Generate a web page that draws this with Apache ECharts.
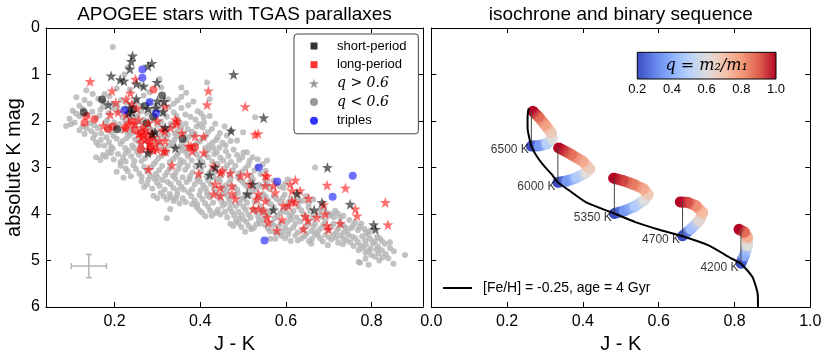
<!DOCTYPE html>
<html><head><meta charset="utf-8">
<script src="https://cdn.jsdelivr.net/npm/echarts@6/dist/echarts.min.js"></script>
<style>html,body{margin:0;padding:0;background:#fff}#c{width:830px;height:360px}</style>
</head><body><div id="c"></div>
<script>
// ---------- DATA: left panel (J-K, absolute K mag) ----------
const greyStars = [
[0.196,0.41],[0.231,0.85],[0.223,1.00],[0.305,1.10],[0.416,1.17],[0.309,1.28],[0.356,1.28],[0.134,1.34],[0.367,1.39],[0.149,1.42],[0.177,1.42],[0.205,1.30],[0.262,1.25],[0.282,1.38],[0.236,1.33],
[0.111,1.49],[0.130,1.55],[0.118,1.67],[0.325,1.53],[0.422,1.53],[0.162,1.52],[0.188,1.47],[0.215,1.55],[0.245,1.62],[0.268,1.45],[0.296,1.66],[0.338,1.63],[0.356,1.48],[0.384,1.58],[0.142,1.63],[0.173,1.69],[0.207,1.67],[0.262,1.68],
[0.175,1.58],[0.195,1.63],[0.228,1.60],[0.252,1.57],[0.281,1.60],[0.310,1.62],[0.347,1.56],[0.372,1.66],[0.186,1.83],[0.209,1.79],[0.231,1.85],[0.262,1.79],[0.287,1.78],[0.315,1.85],[0.344,1.88],[0.389,1.97],[0.137,1.86],[0.165,1.88],[0.110,1.84],[0.223,1.73],[0.327,1.70],[0.246,1.92],[0.297,1.91],[0.402,1.84],
[0.102,1.78],[0.126,1.74],[0.148,1.80],[0.167,1.76],[0.198,1.72],[0.219,1.93],[0.254,1.88],[0.276,1.84],[0.302,1.74],[0.322,1.91],[0.338,1.81],[0.356,1.72],[0.377,1.91],[0.408,1.92],[0.422,1.89],[0.528,1.92],[0.095,1.95],[0.118,1.90],[0.157,1.93],[0.183,1.98],[0.236,1.96],[0.268,1.97],[0.292,1.99],[0.348,1.97],[0.394,1.79],[0.365,1.86],
[0.087,2.11],[0.107,2.03],[0.130,2.28],[0.125,2.12],[0.141,2.05],[0.161,2.15],[0.178,2.03],[0.192,2.24],[0.212,2.07],[0.231,2.27],[0.248,2.10],[0.266,2.05],[0.284,2.17],[0.302,2.08],[0.325,2.29],[0.336,2.12],[0.352,2.05],[0.371,2.18],[0.388,2.28],[0.409,2.03],[0.406,2.14],[0.435,2.06],[0.500,2.24],[0.146,2.22],[0.205,2.15],[0.219,2.21],[0.258,2.26],[0.296,2.27],[0.314,2.14],[0.347,2.22],[0.362,2.27],[0.392,2.12],[0.418,2.24],[0.273,2.21],[0.238,2.18],
[0.098,2.07],[0.118,2.20],[0.135,2.16],[0.152,2.09],[0.169,2.27],[0.187,2.11],[0.199,2.03],[0.226,2.02],[0.243,2.25],[0.255,2.02],[0.262,2.17],[0.279,2.09],[0.291,2.22],[0.309,2.01],[0.321,2.20],[0.341,2.27],[0.356,2.14],[0.366,2.06],[0.381,2.23],[0.398,2.07],[0.427,2.17],[0.446,2.26],[0.457,2.12],[0.472,2.21],[0.155,2.29],[0.183,2.19],[0.288,2.29],[0.331,2.06],
[0.157,2.46],[0.181,2.35],[0.192,2.56],[0.462,2.31],[0.486,2.42],[0.452,2.47],[0.168,2.41],[0.205,2.38],[0.214,2.49],[0.228,2.37],[0.241,2.52],[0.255,2.44],[0.269,2.33],[0.281,2.55],[0.293,2.39],[0.307,2.52],[0.321,2.36],[0.333,2.47],[0.345,2.33],[0.351,2.56],[0.366,2.42],[0.379,2.31],[0.392,2.47],[0.405,2.38],[0.421,2.52],[0.437,2.41],[0.445,2.57],[0.176,2.53],[0.225,2.58],[0.264,2.59],[0.298,2.32],[0.316,2.58],[0.339,2.55],[0.374,2.57],[0.412,2.58],
[0.150,2.37],[0.163,2.52],[0.187,2.45],[0.198,2.33],[0.219,2.43],[0.235,2.31],[0.248,2.39],[0.261,2.51],[0.275,2.44],[0.287,2.34],[0.302,2.46],[0.313,2.32],[0.327,2.53],[0.340,2.41],[0.357,2.48],[0.371,2.36],[0.385,2.53],[0.399,2.44],[0.413,2.33],[0.429,2.46],[0.441,2.35],[0.459,2.52],[0.471,2.43],[0.196,2.59],[0.246,2.58],[0.292,2.58],[0.362,2.57],[0.431,2.58],
[0.157,2.78],[0.220,2.78],[0.509,2.67],[0.454,2.85],[0.556,2.85],[0.501,2.68],[0.185,2.66],[0.198,2.83],[0.208,2.71],[0.233,2.64],[0.246,2.86],[0.257,2.73],[0.271,2.80],[0.285,2.68],[0.296,2.88],[0.309,2.75],[0.322,2.66],[0.337,2.82],[0.348,2.70],[0.362,2.88],[0.371,2.76],[0.386,2.64],[0.398,2.81],[0.412,2.72],[0.428,2.87],[0.439,2.68],[0.466,2.75],[0.478,2.62],[0.491,2.84],[0.522,2.78],[0.173,2.73],[0.226,2.87],[0.265,2.62],[0.357,2.63],[0.419,2.63],
[0.167,2.84],[0.180,2.77],[0.192,2.69],[0.214,2.88],[0.226,2.69],[0.239,2.76],[0.252,2.66],[0.263,2.86],[0.278,2.73],[0.290,2.64],[0.302,2.80],[0.316,2.71],[0.329,2.88],[0.343,2.76],[0.354,2.84],[0.367,2.68],[0.380,2.85],[0.392,2.72],[0.405,2.88],[0.419,2.78],[0.433,2.71],[0.447,2.79],[0.460,2.65],[0.472,2.88],[0.486,2.73],[0.498,2.78],[0.515,2.86],[0.534,2.82],
[0.221,3.22],[0.214,2.96],[0.231,3.08],[0.244,2.95],[0.258,3.13],[0.269,2.99],[0.283,3.18],[0.291,2.93],[0.304,3.06],[0.318,3.17],[0.329,3.02],[0.343,3.12],[0.352,2.94],[0.365,3.05],[0.376,3.19],[0.389,2.98],[0.402,3.08],[0.415,3.19],[0.427,3.04],[0.441,2.92],[0.458,3.02],[0.468,3.16],[0.482,2.96],[0.497,3.09],[0.512,2.95],[0.527,3.06],[0.541,3.14],[0.546,2.93],[0.238,3.19],[0.301,3.21],[0.359,3.21],[0.431,3.21],[0.488,3.20],[0.668,3.00],
[0.205,3.09],[0.226,3.02],[0.250,3.03],[0.263,3.20],[0.276,3.07],[0.296,3.14],[0.311,2.97],[0.323,3.10],[0.336,3.18],[0.349,3.03],[0.371,2.97],[0.382,3.11],[0.396,3.20],[0.408,2.96],[0.421,3.12],[0.436,3.09],[0.449,3.17],[0.463,2.95],[0.476,3.06],[0.490,3.13],[0.505,3.02],[0.519,3.17],[0.533,2.99],[0.553,3.07],[0.286,3.00],
[0.269,3.42],[0.263,3.30],[0.279,3.26],[0.288,3.45],[0.299,3.33],[0.312,3.27],[0.317,3.48],[0.331,3.36],[0.342,3.24],[0.356,3.41],[0.368,3.31],[0.381,3.47],[0.393,3.26],[0.407,3.38],[0.418,3.28],[0.432,3.46],[0.446,3.29],[0.458,3.39],[0.471,3.25],[0.486,3.47],[0.499,3.31],[0.511,3.43],[0.523,3.25],[0.538,3.37],[0.552,3.28],[0.563,3.46],[0.579,3.36],[0.594,3.44],[0.604,3.26],[0.347,3.49],[0.401,3.49],[0.462,3.48],
[0.276,3.36],[0.293,3.24],[0.305,3.40],[0.324,3.31],[0.337,3.44],[0.350,3.33],[0.362,3.48],[0.375,3.25],[0.387,3.36],[0.399,3.30],[0.413,3.45],[0.425,3.36],[0.439,3.26],[0.452,3.44],[0.466,3.34],[0.479,3.42],[0.492,3.26],[0.505,3.37],[0.517,3.30],[0.530,3.47],[0.544,3.41],[0.557,3.36],[0.571,3.28],[0.586,3.41],[0.598,3.35],
[0.291,3.61],[0.308,3.55],[0.322,3.69],[0.338,3.72],[0.346,3.58],[0.359,3.66],[0.373,3.53],[0.381,3.79],[0.387,3.71],[0.398,3.59],[0.411,3.77],[0.423,3.64],[0.437,3.53],[0.449,3.72],[0.463,3.61],[0.472,3.78],[0.488,3.55],[0.496,3.67],[0.509,3.76],[0.521,3.52],[0.533,3.63],[0.547,3.57],[0.558,3.71],[0.571,3.62],[0.586,3.74],[0.597,3.58],[0.611,3.66],[0.623,3.56],[0.633,3.73],[0.647,3.62],[0.653,3.78],[0.664,3.69],[0.329,3.57],[0.352,3.77],[0.416,3.54],[0.458,3.78],[0.505,3.58],
[0.300,3.66],[0.315,3.62],[0.331,3.64],[0.343,3.66],[0.366,3.74],[0.379,3.62],[0.393,3.79],[0.405,3.68],[0.417,3.61],[0.430,3.76],[0.443,3.63],[0.455,3.55],[0.468,3.69],[0.481,3.61],[0.492,3.77],[0.503,3.66],[0.515,3.61],[0.527,3.74],[0.540,3.66],[0.553,3.63],[0.565,3.79],[0.578,3.68],[0.592,3.66],[0.604,3.77],[0.617,3.72],[0.628,3.64],[0.641,3.71],
[0.330,3.89],[0.322,4.09],[0.392,3.86],[0.404,3.97],[0.418,3.84],[0.427,4.04],[0.441,3.91],[0.452,3.82],[0.463,4.07],[0.474,3.95],[0.483,3.83],[0.497,4.02],[0.506,3.91],[0.518,4.08],[0.529,3.96],[0.541,3.84],[0.553,4.03],[0.566,3.94],[0.574,4.09],[0.587,3.98],[0.598,3.87],[0.609,4.05],[0.618,3.93],[0.629,3.84],[0.641,4.01],[0.653,3.86],[0.662,4.08],[0.676,3.96],[0.689,3.88],[0.701,4.03],[0.707,4.00],[0.715,3.93],[0.727,4.08],[0.436,3.98],[0.491,4.09],[0.545,3.97],[0.602,3.96],[0.683,4.06],
[0.398,3.92],[0.412,4.05],[0.423,3.93],[0.447,4.01],[0.458,3.95],[0.469,3.88],[0.479,4.03],[0.489,3.95],[0.501,3.85],[0.512,4.01],[0.523,3.90],[0.535,4.05],[0.549,3.91],[0.560,3.99],[0.571,3.85],[0.581,4.04],[0.593,3.93],[0.604,3.84],[0.614,4.00],[0.625,4.08],[0.636,3.92],[0.647,4.05],[0.657,3.94],[0.669,4.02],[0.681,3.91],[0.695,3.97],[0.712,4.07],[0.721,3.99],[0.734,4.04],
[0.470,4.21],[0.483,4.15],[0.496,4.28],[0.508,4.17],[0.519,4.33],[0.531,4.22],[0.540,4.21],[0.547,4.12],[0.558,4.31],[0.567,4.19],[0.583,4.27],[0.594,4.38],[0.603,4.18],[0.617,4.29],[0.628,4.39],[0.634,4.16],[0.648,4.26],[0.659,4.37],[0.668,4.21],[0.681,4.31],[0.692,4.15],[0.706,4.27],[0.718,4.38],[0.726,4.19],[0.739,4.29],[0.748,4.13],[0.757,4.24],[0.768,4.35],[0.776,4.21],[0.783,4.32],[0.505,4.38],[0.575,4.40],[0.612,4.12],[0.735,4.40],
[0.477,4.26],[0.489,4.20],[0.501,4.12],[0.513,4.25],[0.525,4.30],[0.537,4.14],[0.552,4.24],[0.563,4.37],[0.572,4.25],[0.588,4.19],[0.598,4.29],[0.608,4.35],[0.622,4.21],[0.640,4.33],[0.653,4.19],[0.664,4.28],[0.675,4.37],[0.687,4.23],[0.699,4.35],[0.711,4.21],[0.722,4.31],[0.733,4.24],[0.744,4.35],[0.753,4.30],[0.762,4.18],[0.772,4.28],[0.788,4.40],[0.796,4.36],
[0.563,4.53],[0.575,4.53],[0.589,4.47],[0.622,4.46],[0.611,4.58],[0.637,4.52],[0.648,4.43],[0.661,4.53],[0.674,4.46],[0.686,4.59],[0.700,4.50],[0.712,4.44],[0.722,4.62],[0.734,4.53],[0.746,4.45],[0.750,4.61],[0.762,4.52],[0.785,4.57],[0.792,4.45],[0.803,4.63],[0.813,4.49],[0.824,4.58],[0.843,4.61],[0.698,4.67],[0.758,4.69],[0.774,4.68],[0.815,4.70],[0.659,4.64],
[0.583,4.42],[0.598,4.52],[0.605,4.44],[0.628,4.57],[0.643,4.48],[0.654,4.58],[0.667,4.42],[0.680,4.52],[0.692,4.45],[0.706,4.55],[0.717,4.51],[0.728,4.46],[0.741,4.57],[0.755,4.49],[0.768,4.60],[0.778,4.48],[0.797,4.54],[0.808,4.59],[0.819,4.52],[0.733,4.65],[0.787,4.66],[0.831,4.64],
[0.770,4.78],[0.786,4.84],[0.798,4.74],[0.824,4.78],[0.808,4.92],[0.833,4.86],[0.852,4.80],[0.878,4.88],[0.773,5.05],[0.793,5.09],[0.851,5.07],[0.770,5.03],[0.818,5.00],[0.839,4.95],[0.786,4.96],
[0.780,4.73],[0.793,4.79],[0.811,4.77],[0.816,4.85],[0.843,4.73],[0.799,4.88],[0.826,4.93]
];
const longStars = [
[0.143,1.15],[0.194,1.35],[0.249,1.10],[0.237,1.40],[0.227,1.53],[0.203,1.60],[0.208,1.81],[0.190,1.86],[0.252,1.73],[0.227,1.87],[0.247,2.06],[0.318,1.69],[0.174,2.10],[0.266,2.14],[0.278,2.28],[0.290,2.35],[0.305,2.42],[0.317,2.22],[0.319,2.65],[0.291,2.63],[0.262,2.35],[0.256,1.97],[0.233,2.04],[0.279,2.04],[0.272,2.19],[0.287,2.26],[0.311,2.19],[0.346,2.01],[0.357,2.26],[0.388,2.33],[0.408,2.33],[0.373,2.54],[0.408,2.68],[0.381,2.65],[0.334,2.95],[0.279,3.04],[0.279,2.61],[0.299,2.61],[0.314,2.65],[0.318,2.43],[0.272,2.40],[0.419,1.35],[0.416,1.65],[0.505,1.69],[0.528,2.29],[0.535,2.27],[0.396,3.13],[0.431,2.97],[0.451,3.07],[0.470,3.12],[0.494,3.18],[0.435,3.36],[0.447,3.43],[0.431,3.57],[0.447,3.61],[0.474,3.40],[0.474,3.56],[0.482,3.67],[0.517,3.36],[0.556,3.19],[0.571,3.39],[0.552,3.39],[0.536,3.57],[0.532,3.68],[0.552,3.72],[0.524,3.89],[0.536,3.89],[0.548,3.93],[0.556,4.07],[0.559,4.18],[0.579,4.35],[0.591,4.12],[0.575,3.54],[0.610,3.36],[0.614,3.50],[0.594,3.82],[0.606,3.82],[0.614,3.72],[0.510,3.15],[0.622,3.27],[0.633,3.50],[0.653,3.66],[0.622,3.75],[0.688,3.80],[0.696,3.38],[0.739,3.44],[0.832,3.75],[0.838,4.23],[0.762,3.89],[0.766,4.04],[0.727,4.20],[0.696,4.25],[0.699,4.33],[0.641,4.32],[0.651,4.14],[0.645,4.05],[0.672,4.07],[0.692,4.00],[0.342,1.97],[0.344,2.07],[0.330,2.14],[0.225,2.15],[0.378,2.54],[0.447,3.11],[0.552,3.17],[0.262,2.46],[0.268,2.30],[0.282,2.49],[0.256,2.28],[0.296,2.50],[0.240,1.63],[0.300,2.00]
];
const shortStars = [
[0.242,0.60],[0.239,0.72],[0.236,0.88],[0.287,0.76],[0.278,0.82],[0.192,1.03],[0.213,1.11],[0.222,1.14],[0.251,1.20],[0.299,1.17],[0.478,1.00],[0.185,1.65],[0.251,1.52],[0.278,1.73],[0.235,1.71],[0.241,1.81],[0.313,1.80],[0.300,1.57],[0.316,1.58],[0.548,1.93],[0.472,2.21],[0.278,2.68],[0.295,2.23],[0.288,2.28],[0.342,2.58],[0.398,2.93],[0.435,3.00],[0.422,3.16],[0.697,3.00],[0.523,3.36],[0.510,3.57],[0.626,3.56],[0.571,3.91],[0.684,3.75],[0.666,3.91],[0.750,3.79],[0.805,4.23],[0.809,4.33],[0.233,1.83],[0.268,1.25],[0.297,1.72],[0.318,2.14]
];
const shortDots = [[0.128,1.81],[0.171,1.54],[0.206,2.18],[0.311,1.45],[0.275,2.05],[0.244,1.74],[0.290,1.91],[0.359,2.38],[0.270,1.68]];
const longDots = [[0.291,1.32],[0.134,1.89],[0.153,1.96],[0.130,2.04],[0.185,2.17],[0.196,2.12],[0.226,2.14],[0.247,2.19],[0.262,2.26],[0.282,2.42],[0.261,2.62],[0.283,2.57],[0.388,2.56],[0.240,2.01]];
const triples = [[0.265,0.89],[0.265,1.07],[0.282,1.59],[0.223,1.77],[0.297,1.84],[0.537,3.00],[0.580,3.30],[0.756,3.18],[0.709,3.63],[0.550,4.57]];
// typical error bar: [J-K, Mk, err(J-K), err(Mk)]
const errBar = [[0.14, 5.12, 0.041, 0.25]];
const leftXTicks = [0.2, 0.4, 0.6, 0.8];

// ---------- DATA: right panel ----------
const isoName = '[Fe/H] = -0.25, age = 4 Gyr';
const isoJK = [0.257,0.254,0.254,0.259,0.266,0.280,0.298,0.318,0.334,0.365,0.409,0.483,0.540,0.602,0.663,0.733,0.786,0.817,0.847,0.861,0.862];
const isoMk = [1.73,1.90,2.15,2.38,2.58,2.78,2.97,3.15,3.32,3.50,3.75,3.99,4.18,4.34,4.48,4.68,4.93,5.07,5.35,5.71,6.00];
// binary sequences: [J-K, Mk, q]
const seq6500 = [[0.264,2.54,0.2],[0.285,2.53,0.35],[0.305,2.49,0.5],[0.319,2.38,0.6],[0.316,2.25,0.68],[0.300,2.08,0.78],[0.283,1.91,0.88],[0.268,1.79,1.0]];
const seq6000 = [[0.334,3.32,0.2],[0.358,3.29,0.35],[0.383,3.22,0.48],[0.409,3.11,0.6],[0.418,3.03,0.66],[0.400,2.87,0.76],[0.369,2.72,0.87],[0.336,2.58,1.0]];
const seq5350 = [[0.483,3.99,0.2],[0.510,3.93,0.35],[0.538,3.83,0.48],[0.562,3.70,0.6],[0.572,3.58,0.68],[0.560,3.46,0.76],[0.533,3.36,0.85],[0.505,3.28,0.93],[0.481,3.23,1.0]];
const seq4700 = [[0.663,4.47,0.2],[0.685,4.32,0.45],[0.707,4.14,0.62],[0.716,3.97,0.72],[0.698,3.82,0.82],[0.676,3.75,0.92],[0.657,3.74,1.0]];
const seq4200 = [[0.817,5.06,0.2],[0.826,4.89,0.4],[0.834,4.68,0.6],[0.834,4.50,0.75],[0.826,4.39,0.88],[0.812,4.33,1.0]];
const sequences = [seq6500, seq6000, seq5350, seq4700, seq4200];
const teffLabels = ['6500 K', '6000 K', '5350 K', '4700 K', '4200 K'];
const cbarName = 'q = m\u2082/m\u2081';

// ---------- styling helpers ----------
const CW = [[0,[59,76,192]],[0.125,[98,130,234]],[0.25,[141,176,254]],[0.375,[184,208,249]],[0.5,[221,221,221]],[0.625,[244,196,173]],[0.75,[244,154,123]],[0.875,[222,96,77]],[1,[180,4,38]]];
function cmap(q){
  let t = (q - 0.2) / 0.8; t = Math.max(0, Math.min(1, t));
  for (let i = 0; i < CW.length - 1; i++) {
    const a = CW[i], b = CW[i+1];
    if (t <= b[0]) {
      const f = (t - a[0]) / (b[0] - a[0]);
      const c = a[1].map((v, k) => Math.round(v + (b[1][k] - v) * f));
      return 'rgb(' + c.join(',') + ')';
    }
  }
  return 'rgb(180,4,38)';
}
const STAR = 'path://M0,-10L2.35,-3.24L9.51,-3.09L3.8,1.24L5.88,8.09L0,4L-5.88,8.09L-3.8,1.24L-9.51,-3.09L-2.35,-3.24Z';
const ICON_SQ = 'path://M0,0M10,10M1.5,1.5L8.5,1.5L8.5,8.5L1.5,8.5Z';
const ICON_CI = 'path://M0,0M10,10M9,5A4,4,0,1,1,1,5A4,4,0,1,1,9,5Z';
const ICON_LINE = 'path://M0,0M0,14M0,6L29,6L29,8L0,8Z';
const FONT = 'Liberation Sans';

const segData = [];
sequences.forEach(s => { for (let i = 0; i < s.length - 1; i++) segData.push([s[i][0], s[i][1], s[i][2], s[i+1][0], s[i+1][1], s[i+1][2]]); });
const vlineData = sequences.map(s => [s[0][0], s[0][1], s[s.length-1][1]]);
const labelData = sequences.map(s => [s[0][0], s[0][1]]);

function tickAxis(extra){
  return Object.assign({
    type: 'value', splitLine: {show: false},
    axisLine: {show: true, onZero: false, lineStyle: {color: '#000', width: 1}},
    axisTick: {show: true, inside: true, length: 5, lineStyle: {color: '#000', width: 1}},
    axisLabel: {show: false}
  }, extra);
}
const lab = (fmt, extra) => Object.assign({show: true, fontSize: 16, color: '#000', fontFamily: FONT, formatter: fmt}, extra || {});

function sc(name, data, symbol, size, color, z){
  return {type: 'scatter', name, data, xAxisIndex: 0, yAxisIndex: 0, symbol, symbolSize: size,
    itemStyle: {color}, z, silent: true};
}

const option = {
  animation: false,
  textStyle: {fontFamily: FONT},
  grid: [
    {left: 46, top: 26, width: 377, height: 281},
    {left: 431.3, top: 26, width: 379, height: 281},
    {left: 637.3, top: 52.3, width: 138.7, height: 26.7, show: true, borderColor: '#000', borderWidth: 1,
     backgroundColor: {type: 'linear', x: 0, y: 0, x2: 1, y2: 0, colorStops: CW.map(c => ({offset: c[0], color: 'rgb(' + c[1].join(',') + ')'}))}}
  ],
  xAxis: [
    tickAxis({gridIndex: 0, min: 0.04, max: 0.92, position: 'bottom',
      axisTick: {show: true, inside: true, length: 5, customValues: leftXTicks, lineStyle: {color: '#000'}},
      axisLabel: lab(v => v.toFixed(1), {customValues: leftXTicks, margin: 7}),
      name: 'J - K', nameLocation: 'middle', nameGap: 25, nameTextStyle: {fontSize: 20, color: '#000', fontFamily: FONT}}),
    tickAxis({gridIndex: 0, min: 0.04, max: 0.92, position: 'top',
      axisTick: {show: true, inside: true, length: 5, customValues: leftXTicks, lineStyle: {color: '#000'}},
      name: 'APOGEE stars with TGAS parallaxes', nameLocation: 'middle', nameGap: 4, nameTextStyle: {fontSize: 19, color: '#000', fontFamily: FONT}}),
    tickAxis({gridIndex: 1, min: 0, max: 1, interval: 0.2, position: 'bottom',
      axisLabel: lab(v => v.toFixed(1), {margin: 7}),
      name: 'J - K', nameLocation: 'middle', nameGap: 25, nameTextStyle: {fontSize: 20, color: '#000', fontFamily: FONT}}),
    tickAxis({gridIndex: 1, min: 0, max: 1, interval: 0.2, position: 'top',
      name: 'isochrone and binary sequence', nameLocation: 'middle', nameGap: 4, nameTextStyle: {fontSize: 19, color: '#000', fontFamily: FONT}}),
    {type: 'value', gridIndex: 2, min: 0.2, max: 1.0, interval: 0.2, position: 'bottom', splitLine: {show: false},
      axisLine: {show: false}, axisTick: {show: false},
      axisLabel: {show: true, fontSize: 13, color: '#000', fontFamily: FONT, margin: 4, formatter: v => v.toFixed(1)},
      name: cbarName, nameLocation: 'middle', nameGap: -21,
      nameTextStyle: {fontSize: 16, fontFamily: 'DejaVu Serif', fontStyle: 'italic', color: '#000'}}
  ],
  yAxis: [
    tickAxis({gridIndex: 0, min: 0, max: 6, interval: 1, inverse: true, position: 'left',
      axisLabel: lab(v => String(v), {margin: 6}),
      name: 'absolute K mag', nameLocation: 'middle', nameGap: 22, nameRotate: 90,
      nameTextStyle: {fontSize: 20, color: '#000', fontFamily: FONT}}),
    tickAxis({gridIndex: 0, min: 0, max: 6, interval: 1, inverse: true, position: 'right'}),
    tickAxis({gridIndex: 1, min: 0, max: 6, interval: 1, inverse: true, position: 'left'}),
    tickAxis({gridIndex: 1, min: 0, max: 6, interval: 1, inverse: true, position: 'right'}),
    {type: 'value', gridIndex: 2, min: 0, max: 1, show: false}
  ],
  legend: [
    {left: 294, top: 34, orient: 'vertical', selectedMode: false,
     backgroundColor: '#fff', borderColor: '#444', borderWidth: 1, borderRadius: 3,
     padding: [5, 12, 6, 15], itemWidth: 10, itemHeight: 10, itemGap: 4.7,
     data: [
       {name: 'short-period', icon: ICON_SQ},
       {name: 'long-period', icon: ICON_SQ},
       {name: 'q > 0.6', icon: STAR},
       {name: 'q < 0.6', icon: ICON_CI},
       {name: 'triples', icon: ICON_CI}
     ],
     formatter: n => (n.charAt(0) === 'q' ? '{m|' + n + '}' : '{t|' + n + '}'),
     textStyle: {fontSize: 13, color: '#000', lineHeight: 14, padding: [0, 0, 0, 13],
       rich: {t: {fontSize: 13, fontFamily: FONT, color: '#000'},
              m: {fontSize: 14, fontFamily: 'DejaVu Serif', fontStyle: 'italic', color: '#000'}}}},
    {left: 443, top: 281, selectedMode: false, padding: 0, itemWidth: 29, itemHeight: 14,
     data: [{name: isoName, icon: ICON_LINE}], textStyle: {fontSize: 14, color: '#000', fontFamily: FONT, padding: [0, 0, 0, 6]}}
  ],
  series: [
    sc('grey', greyStars, 'circle', 6, '#b3b3b3', 2),
    sc('long q<0.6', longDots, 'circle', 8, 'rgba(255,0,0,0.7)', 3),
    sc('short q<0.6', shortDots, 'circle', 8, 'rgba(0,0,0,0.72)', 3),
    sc('long q>0.6', longStars, STAR, 11, 'rgba(255,0,0,0.7)', 4),
    sc('short q>0.6', shortStars, STAR, 11, 'rgba(0,0,0,0.72)', 4),
    sc('triples-data', triples, 'circle', 8, 'rgba(0,0,255,0.7)', 5),
    {type: 'custom', name: 'errbar', xAxisIndex: 0, yAxisIndex: 0, data: errBar, silent: true, z: 3,
     renderItem: (p, api) => {
       const x = api.value(0), y = api.value(1), ex = api.value(2), ey = api.value(3);
       const l = api.coord([x - ex, y]), r = api.coord([x + ex, y]);
       const t = api.coord([x, y - ey]), b = api.coord([x, y + ey]);
       const st = {stroke: '#b3b3b3', lineWidth: 1.5}, c = 3;
       return {type: 'group', children: [
         {type: 'line', shape: {x1: l[0], y1: l[1], x2: r[0], y2: r[1]}, style: st},
         {type: 'line', shape: {x1: t[0], y1: t[1], x2: b[0], y2: b[1]}, style: st},
         {type: 'line', shape: {x1: l[0], y1: l[1] - c, x2: l[0], y2: l[1] + c}, style: st},
         {type: 'line', shape: {x1: r[0], y1: r[1] - c, x2: r[0], y2: r[1] + c}, style: st},
         {type: 'line', shape: {x1: t[0] - c, y1: t[1], x2: t[0] + c, y2: t[1]}, style: st},
         {type: 'line', shape: {x1: b[0] - c, y1: b[1], x2: b[0] + c, y2: b[1]}, style: st}
       ]};
     }},
    // legend proxies
    sc('short-period', [], 'rect', 8, '#000000', 1),
    sc('long-period', [], 'rect', 8, '#ff0000', 1),
    sc('q > 0.6', [], STAR, 10, '#808080', 1),
    sc('q < 0.6', [], 'circle', 8, '#808080', 1),
    sc('triples', [], 'circle', 8, '#0000ff', 1),
    // right panel
    {type: 'custom', name: 'tubes', xAxisIndex: 2, yAxisIndex: 2, data: segData, silent: true, z: 2,
     encode: {x: [0, 3], y: [1, 4]},
     renderItem: (p, api) => {
       const p1 = api.coord([api.value(0), api.value(1)]);
       const p2 = api.coord([api.value(3), api.value(4)]);
       const grad = new echarts.graphic.LinearGradient(p1[0], p1[1], p2[0], p2[1],
         [{offset: 0, color: cmap(api.value(2))}, {offset: 1, color: cmap(api.value(5))}], true);
       return {type: 'line', shape: {x1: p1[0], y1: p1[1], x2: p2[0], y2: p2[1]},
               style: {stroke: grad, lineWidth: 11, lineCap: 'round'}};
     }},
    {type: 'custom', name: 'vlines', xAxisIndex: 2, yAxisIndex: 2, data: vlineData, silent: true, z: 3,
     encode: {x: 0, y: [1, 2]},
     renderItem: (p, api) => {
       const a = api.coord([api.value(0), api.value(1)]);
       const b = api.coord([api.value(0), api.value(2)]);
       return {type: 'line', shape: {x1: a[0], y1: a[1], x2: b[0], y2: b[1]}, style: {stroke: '#444', lineWidth: 1}};
     }},
    {type: 'line', name: isoName, xAxisIndex: 2, yAxisIndex: 2, z: 4, silent: true,
     data: isoJK.map((x, i) => [x, isoMk[i]]), smooth: 0.2, symbol: 'none',
     lineStyle: {color: '#000', width: 2}, itemStyle: {color: '#000'}},
    {type: 'scatter', name: 'teff', xAxisIndex: 2, yAxisIndex: 2, z: 5, silent: true,
     data: labelData, symbolSize: 1, itemStyle: {color: 'rgba(0,0,0,0)'},
     label: {show: true, position: 'left', distance: 2, offset: [0, 4], fontSize: 12, color: '#000', fontFamily: FONT,
             formatter: p => teffLabels[p.dataIndex]}}
  ]
};
const chart = echarts.init(document.getElementById('c'), null, {renderer: 'canvas', width: 830, height: 360});
chart.setOption(option);
</script>
</body></html>
